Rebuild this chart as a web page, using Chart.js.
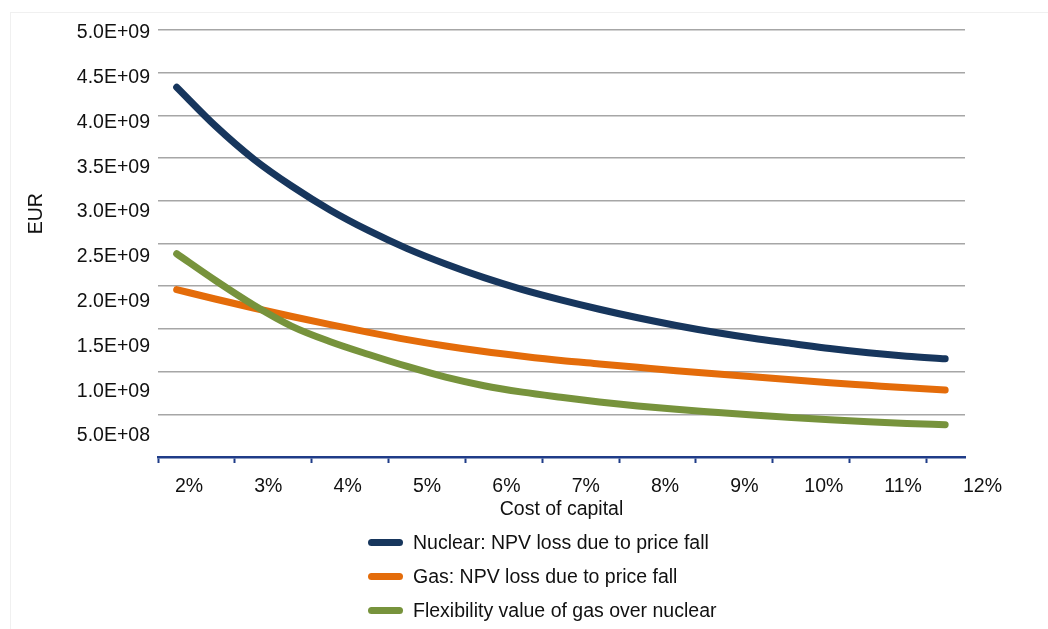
<!DOCTYPE html>
<html>
<head>
<meta charset="utf-8">
<script src="https://cdn.jsdelivr.net/npm/chart.js@4.4.1/dist/chart.umd.min.js"></script>
<style>
  html, body { margin: 0; padding: 0; background: #fff; }
  #wrap { position: relative; width: 1048px; height: 629px; overflow: hidden; }
  #frame { position: absolute; left: 10px; top: 12px; right: -2px; bottom: -2px; border-left: 1px solid #f0f0f0; border-top: 1px solid #f0f0f0; }
  #myChart { position: absolute; left: 0; top: 0; }
  #legend { position: absolute; left: 368px; top: 525px; font: 19.5px "Liberation Sans", Arial, sans-serif; color: #111; }
  .item { display: flex; align-items: center; height: 34px; white-space: nowrap; }
  .swatch { width: 35px; height: 7px; border-radius: 4px; margin-right: 10px; }
</style>
</head>
<body>
<div id="wrap">
  <div id="frame"></div>
  <canvas id="myChart" width="1048" height="629"></canvas>
  <div id="legend"></div>
</div>
<script>
// cost of capital (%), one point every half percent
const costOfCapital = [2, 2.5, 3, 3.5, 4, 4.5, 5, 5.5, 6, 6.5, 7, 7.5, 8, 8.5, 9, 9.5, 10, 10.5, 11, 11.5, 12];

// EUR
const nuclearLoss = [4.33e9, 3.88e9, 3.49e9, 3.17e9, 2.89e9, 2.65e9, 2.44e9, 2.26e9, 2.10e9, 1.96e9, 1.84e9,
  1.73e9, 1.63e9, 1.54e9, 1.46e9, 1.39e9, 1.33e9, 1.27e9, 1.22e9, 1.18e9, 1.15e9];
const gasLoss = [1.96e9, 1.85e9, 1.745e9, 1.645e9, 1.55e9, 1.46e9, 1.375e9, 1.30e9, 1.235e9, 1.18e9, 1.13e9,
  1.09e9, 1.05e9, 1.01e9, 0.975e9, 0.94e9, 0.905e9, 0.87e9, 0.84e9, 0.81e9, 0.785e9];
const flexValue = [2.38e9, 2.07e9, 1.78e9, 1.53e9, 1.35e9, 1.20e9, 1.06e9, 0.935e9, 0.835e9, 0.76e9, 0.70e9,
  0.645e9, 0.598e9, 0.558e9, 0.525e9, 0.493e9, 0.463e9, 0.437e9, 0.413e9, 0.393e9, 0.378e9];

const seriesNames = ["Nuclear: NPV loss due to price fall", "Gas: NPV loss due to price fall", "Flexibility value of gas over nuclear"];
const seriesColors = ["#17365d", "#e46c0a", "#77933c"];

const xTickValues = [2, 3, 4, 5, 6, 7, 8, 9, 10, 11, 12];
const xTickLabels = ["2%", "3%", "4%", "5%", "6%", "7%", "8%", "9%", "10%", "11%", "12%"];
const yTickValues = [5e8, 1e9, 1.5e9, 2e9, 2.5e9, 3e9, 3.5e9, 4e9, 4.5e9, 5e9];

// axis ranges (the label axes are shifted a little, like in the original picture)
const xMin = 1.757, xMax = 12.258;
const xLabelMin = 1.9244, xLabelMax = 12.0944;
const yLabelMin = 2.655e8, yLabelMax = 5.0335e9;

function sciLabel(v) {
  const parts = v.toExponential(1).split("e");
  const exp = parts[1];
  return parts[0] + "E" + exp[0] + exp.slice(1).padStart(2, "0");
}

function points(values) {
  return values.map((v, i) => ({ x: costOfCapital[i], y: v }));
}

Chart.defaults.font.family = '"Liberation Sans", Arial, sans-serif';
Chart.defaults.font.size = 19.5;
Chart.defaults.color = "#111";

const datasets = [nuclearLoss, gasLoss, flexValue].map((vals, i) => ({
  label: seriesNames[i],
  data: points(vals),
  borderColor: seriesColors[i],
  backgroundColor: seriesColors[i],
  borderWidth: 7,
  pointRadius: 0,
  cubicInterpolationMode: "monotone",
  fill: false,
  borderCapStyle: "round",
  borderJoinStyle: "round",
  order: [2, 1, 0][i]
}));

const grafico = new Chart(document.getElementById("myChart"), {
  type: "line",
  data: { datasets },
  options: {
    responsive: false,
    animation: false,
    layout: { padding: { left: 0, right: 83, top: 30, bottom: 104 } },
    plugins: { legend: { display: false }, tooltip: { enabled: false } },
    scales: {
      x: {
        type: "linear",
        min: xMin,
        max: xMax,
        weight: 0,
        afterBuildTicks: (scale) => {
          scale.ticks = xTickValues.map((_, i) => ({ value: xMin + i }));
        },
        afterFit: (scale) => { scale.height = 8; },
        ticks: { display: false },
        grid: { drawOnChartArea: false, drawTicks: true, tickLength: 6, tickWidth: 2, tickColor: "#1f3c88" },
        border: { display: true, color: "#1f3c88", width: 2.5 }
      },
      xl: {
        type: "linear",
        position: "bottom",
        min: xLabelMin,
        max: xLabelMax,
        weight: 1,
        afterBuildTicks: (scale) => {
          scale.ticks = xTickValues.map((v) => ({ value: v }));
        },
        afterFit: (scale) => { scale.height = 60; },
        ticks: {
          autoSkip: false,
          maxRotation: 0,
          padding: 2,
          labelOffset: 25,
          callback: (value, index) => xTickLabels[index]
        },
        grid: { display: false },
        border: { display: false },
        title: { display: true, text: "Cost of capital", padding: { top: 0, bottom: 4 } }
      },
      y: {
        min: 0,
        max: 5e9,
        weight: 0,
        ticks: { display: false, stepSize: 5e8 },
        afterFit: (scale) => { scale.width = 0; },
        grid: {
          drawTicks: false,
          lineWidth: 1.5,
          color: (ctx) => (ctx.tick && ctx.tick.value === 0 ? "rgba(0,0,0,0)" : "#a6a6a6")
        },
        border: { display: false }
      },
      yl: {
        type: "linear",
        position: "left",
        min: yLabelMin,
        max: yLabelMax,
        weight: 1,
        afterBuildTicks: (scale) => {
          scale.ticks = yTickValues.map((v) => ({ value: v }));
        },
        afterFit: (scale) => { scale.width = 158; },
        ticks: { autoSkip: false, padding: 8, callback: (value) => sciLabel(value) },
        grid: { display: false, drawTicks: false },
        border: { display: false },
        title: { display: true, text: "           EUR", padding: { top: 25, bottom: 0 } }
      }
    }
  }
});

// legend, one row per series
const legend = document.getElementById("legend");
grafico.data.datasets.forEach((ds) => {
  const row = document.createElement("div");
  row.className = "item";
  const sw = document.createElement("span");
  sw.className = "swatch";
  sw.style.backgroundColor = ds.borderColor;
  const txt = document.createElement("span");
  txt.textContent = ds.label;
  row.appendChild(sw);
  row.appendChild(txt);
  legend.appendChild(row);
});
</script>
</body>
</html>
